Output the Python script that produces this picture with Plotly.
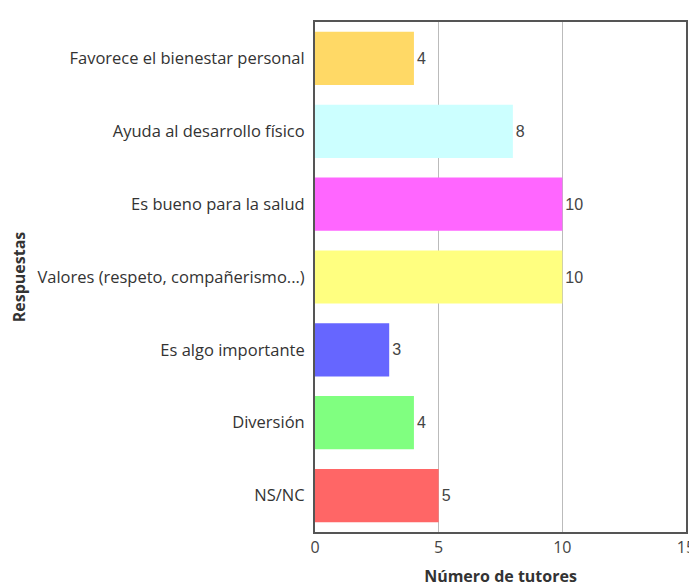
import plotly.graph_objects as go

categories = ["Favorece el bienestar personal", "Ayuda al desarrollo físico", "Es bueno para la salud",
              "Valores (respeto, compañerismo...)", "Es algo importante", "Diversión", "NS/NC"]
values = [4, 8, 10, 10, 3, 4, 5]
colors = ["#FFD966", "#CCFFFF", "#FF66FF", "#FFFF80", "#6666FF", "#80FF80", "#FF6666"]

fig = go.Figure(go.Bar(
    y=categories, x=values, orientation="h",
    marker=dict(color=colors, line=dict(width=0)),
    text=[str(v) for v in values], textposition="outside",
    textfont=dict(size=16, color="#444444", family="Liberation Sans"),
    width=0.73, cliponaxis=False,
))

fig.update_layout(
    width=697, height=586,
    margin=dict(l=307, r=19, t=14, b=62),
    plot_bgcolor="white", paper_bgcolor="white",
    font=dict(family="Open Sans", size=16, color="#333333"),
    showlegend=False,
)
fig.update_xaxes(range=[0, 15], tickvals=[0, 5, 10, 15], showgrid=True, gridcolor="#BBBBBB", gridwidth=1,
                 showline=True, linecolor="#555555", linewidth=2, mirror=True, zeroline=False,
                 ticks="", automargin=False, tickfont=dict(size=16, color="#444444"),
                 title=dict(text="<b>Número de tutores</b>", font=dict(size=16, color="#333333"), standoff=14))
fig.update_yaxes(autorange="reversed", showline=True, linecolor="#555555", linewidth=2, mirror=True,
                 ticks="", automargin=False, ticklabelstandoff=5, tickfont=dict(size=16.5, color="#333333"),
                 title=dict(text="<b>Respuestas</b>", font=dict(size=16, color="#333333"), standoff=12))

fig.write_html("out.html")
